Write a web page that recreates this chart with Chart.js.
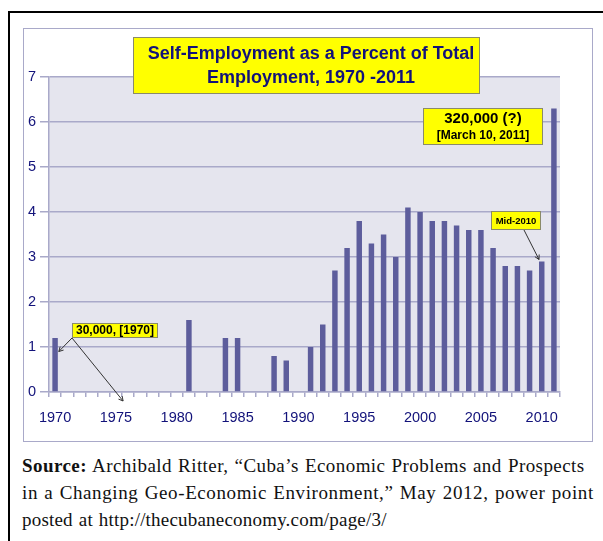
<!DOCTYPE html>
<html>
<head>
<meta charset="utf-8">
<script src="https://cdn.jsdelivr.net/npm/chart.js@4"></script>
<style>
  html, body { margin: 0; padding: 0; background: #fff; }
  body { width: 603px; height: 541px; position: relative; overflow: hidden; }
  #topline { position: absolute; left: 8px; top: 11px; width: 600px; height: 2px; background: #000; }
  #leftline { position: absolute; left: 8px; top: 11px; width: 2px; height: 540px; background: #000; }
  #frame { position: absolute; left: 23px; top: 28px; width: 568px; height: 412px; border: 1.5px solid #a9a9c9; background: #fff; }
  #wrap { position: absolute; left: 0; top: 0; width: 603px; height: 450px; }
  #source { position: absolute; left: 22px; top: 452px; font-family: "Liberation Serif", serif; font-size: 19px; line-height: 27px; color: #111; white-space: nowrap; word-spacing: 1px; }
  #l1 { letter-spacing: 0.43px; }
  #l2 { letter-spacing: 0.6px; }
  #l3 { letter-spacing: 0.2px; }
</style>
</head>
<body>
<div id="topline"></div>
<div id="leftline"></div>
<div id="frame"></div>
<div id="wrap"><canvas id="chart" width="603" height="450"></canvas></div>
<div id="source">
  <div id="l1"><b>Source:</b> Archibald Ritter, “Cuba’s Economic Problems and Prospects</div>
  <div id="l2">in a Changing Geo-Economic Environment,” May 2012, power point</div>
  <div id="l3">posted at http://thecubaneconomy.com/page/3/</div>
</div>
<script>
const years = ['1970','1971','1972','1973','1974','1975','1976','1977','1978','1979',
  '1980','1981','1982','1983','1984','1985','1986','1987','1988','1989',
  '1990','1991','1992','1993','1994','1995','1996','1997','1998','1999',
  '2000','2001','2002','2003','2004','2005','2006','2007','2008','2009',
  '2010','2011']

const selfEmployPct = [1.2, 0, 0, 0, 0, 0, 0, 0, 0, 0,
  0, 1.6, 0, 0, 1.2, 1.2, 0, 0, 0.8, 0.7,
  0, 1.0, 1.5, 2.7, 3.2, 3.8, 3.3, 3.5, 3.0, 4.1,
  4.0, 3.8, 3.8, 3.7, 3.6, 3.6, 3.2, 2.8, 2.8, 2.7,
  2.9, 6.3]

const yTicks = [0, 1, 2, 3, 4, 5, 6, 7]
const labelYears = ['1970','1975','1980','1985','1990','1995','2000','2005','2010']

const titleLines = ['Self-Employment as a Percent of Total', 'Employment, 1970 -2011']

const navy = '#12127a'
const gridColor = '#a9a9c9'

// plot background
const plotBg = {
  id: 'plotBg',
  beforeDraw(chart) {
    const a = chart.chartArea
    const ctx = chart.ctx
    ctx.save()
    ctx.fillStyle = '#e5e5ee'
    ctx.fillRect(a.left, a.top, a.right - a.left, a.bottom - a.top)
    ctx.restore()
  }
}

function yellowBox(ctx, x, y, w, h) {
  ctx.fillStyle = '#ffff00'
  ctx.fillRect(x, y, w, h)
  ctx.strokeStyle = '#8a8a6a'
  ctx.lineWidth = 1
  ctx.strokeRect(x + 0.5, y + 0.5, w - 1, h - 1)
}

function arrow(ctx, x1, y1, x2, y2) {
  ctx.strokeStyle = '#333'
  ctx.lineWidth = 1
  ctx.beginPath()
  ctx.moveTo(x1, y1)
  ctx.lineTo(x2, y2)
  const ang = Math.atan2(y2 - y1, x2 - x1)
  const len = 5
  ctx.moveTo(x2, y2)
  ctx.lineTo(x2 - len * Math.cos(ang - 0.5), y2 - len * Math.sin(ang - 0.5))
  ctx.moveTo(x2, y2)
  ctx.lineTo(x2 - len * Math.cos(ang + 0.5), y2 - len * Math.sin(ang + 0.5))
  ctx.stroke()
}

// title box and call-outs
const notes = {
  id: 'notes',
  afterDraw(chart) {
    const ctx = chart.ctx
    const xs = chart.scales.x
    const ys = chart.scales.y
    const bar = i => chart.getDatasetMeta(0).data[i]
    ctx.save()

    // title
    yellowBox(ctx, 133, 37, 347, 57)
    ctx.fillStyle = navy
    ctx.font = 'bold 18px "Liberation Sans", Arial, sans-serif'
    ctx.textAlign = 'center'
    ctx.textBaseline = 'middle'
    ctx.fillText(titleLines[0], 311, 54)
    ctx.fillText(titleLines[1], 311, 78)

    // 2011 callout
    yellowBox(ctx, 423, 108, 120, 37)
    ctx.fillStyle = '#000'
    ctx.font = 'bold 15px "Liberation Sans", Arial, sans-serif'
    ctx.fillText('320,000 (?)', 483, 119)
    ctx.font = 'bold 12px "Liberation Sans", Arial, sans-serif'
    ctx.fillText('[March 10, 2011]', 483, 136)

    // mid-2010 callout
    const b10 = bar(40)
    arrow(ctx, 524, 230, b10.x - b10.width / 2, ys.getPixelForValue(selfEmployPct[40]) - 2)
    yellowBox(ctx, 491, 211, 50, 19)
    ctx.fillStyle = '#000'
    ctx.font = 'bold 9.5px "Liberation Sans", Arial, sans-serif'
    ctx.fillText('Mid-2010', 516, 221)

    // 1970 callout
    const b70 = bar(0)
    arrow(ctx, 72, 338, b70.x + b70.width / 2 + 1, ys.getPixelForValue(0.9))
    arrow(ctx, 72, 338, xs.getPixelForValue(6) - 5, ys.bottom + 9)
    yellowBox(ctx, 72, 323, 86, 15)
    ctx.fillStyle = '#000'
    ctx.font = 'bold 12px "Liberation Sans", Arial, sans-serif'
    ctx.fillText('30,000, [1970]', 115, 331)

    ctx.restore()
  }
}

new Chart(document.getElementById('chart'), {
  type: 'bar',
  data: {
    labels: years,
    datasets: [{
      data: selfEmployPct,
      backgroundColor: '#5d5d9c',
      borderWidth: 0,
      barPercentage: 0.45,
      categoryPercentage: 1
    }]
  },
  options: {
    responsive: false,
    animation: false,
    devicePixelRatio: 1,
    layout: { padding: { left: 23, right: 43, top: 77, bottom: 8 } },
    plugins: {
      legend: { display: false },
      tooltip: { enabled: false },
      title: { display: false }
    },
    scales: {
      x: {
        grid: {
          display: true,
          drawOnChartArea: false,
          drawTicks: true,
          tickLength: 5,
          color: gridColor,
          lineWidth: 1.5,
          offset: true
        },
        border: { display: true, color: gridColor, width: 1.5 },
        ticks: {
          autoSkip: false,
          maxRotation: 0,
          minRotation: 0,
          padding: 12,
          color: navy,
          font: { family: '"Liberation Sans", Arial, sans-serif', size: 14.5 },
          callback: function(v, i) {
            const lab = years[i]
            return labelYears.indexOf(lab) !== -1 ? lab : ''
          }
        },
        afterFit: s => { s.height = 50 }
      },
      y: {
        min: yTicks[0],
        max: yTicks[yTicks.length - 1],
        afterBuildTicks: s => { s.ticks = yTicks.map(v => ({ value: v })) },
        grid: {
          color: gridColor,
          lineWidth: 1.5,
          tickLength: 9
        },
        border: { display: true, color: gridColor, width: 1.5 },
        ticks: {
          padding: 4,
          color: navy,
          font: { family: '"Liberation Sans", Arial, sans-serif', size: 14.5 }
        },
        afterFit: s => { s.width = 26 }
      }
    }
  },
  plugins: [plotBg, notes]
})
</script>
</body>
</html>
